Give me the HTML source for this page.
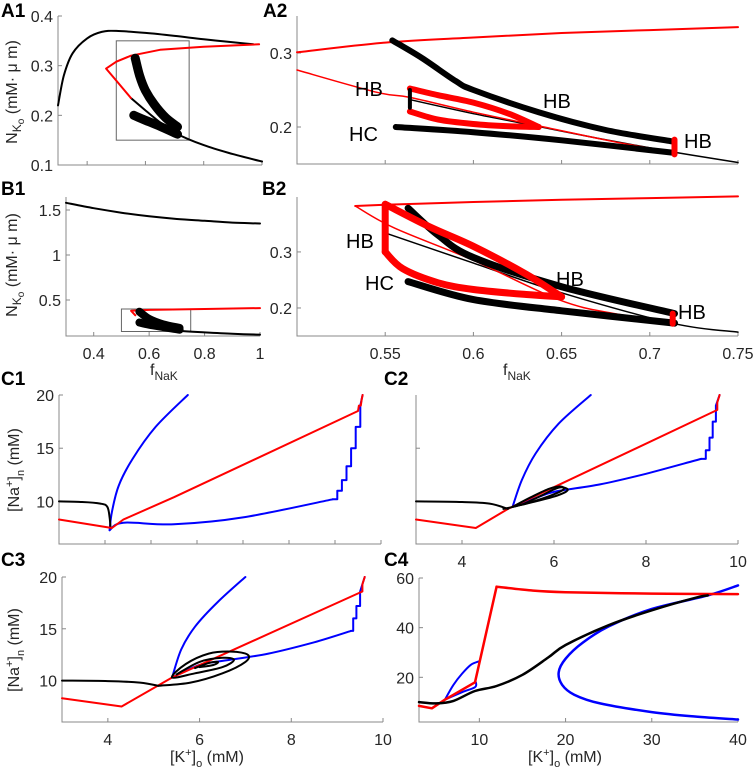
<!DOCTYPE html>
<html><head><meta charset="utf-8"><style>
body{margin:0;background:#fff}
svg{display:block;font-family:"Liberation Sans",Arial,sans-serif}
.tk{font-size:16px;fill:#262626}
.pl{font-size:19px;font-weight:bold;fill:#000}
.an{font-size:20px;fill:#000}
</style></head><body>
<svg id="fig" width="754" height="772" viewBox="0 0 754 772"></svg>
<script>
// ---------- data ----------
// A1
const a1Black=[[0.3,0.22],[0.32,0.28],[0.35,0.325],[0.4,0.355],[0.45,0.368],[0.5,0.37],[0.6,0.366],[0.7,0.36],[0.8,0.353],[0.9,0.347],[0.97,0.343]];
const a1Red=[[0.99,0.343],[0.8,0.338],[0.65,0.332],[0.55,0.32],[0.5,0.308],[0.465,0.294],[0.5,0.27],[0.55,0.235]];
const a1Lower=[[0.55,0.235],[0.6,0.21],[0.65,0.186],[0.7,0.165],[0.8,0.14],[0.9,0.122],[1.0,0.107]];
const a1ThickU=[[0.565,0.315],[0.58,0.28],[0.6,0.25],[0.63,0.222],[0.67,0.195],[0.71,0.177]];
const a1ThickL=[[0.56,0.2],[0.6,0.19],[0.65,0.178],[0.71,0.162]];
const a1Box=[0.5,0.75,0.15,0.35];
const a1YTicks=[0.1,0.2,0.3,0.4];
// A2
const a2RedTop=[[0.5,0.301],[0.55,0.314],[0.6,0.321],[0.65,0.327],[0.7,0.331],[0.75,0.335]];
const a2RedThin=[[0.5,0.277],[0.545,0.247],[0.564,0.24],[0.6,0.22],[0.64,0.2],[0.68,0.18],[0.714,0.166]];
const a2BlackThin=[[0.564,0.237],[0.6,0.218],[0.63,0.204],[0.67,0.185],[0.714,0.166],[0.75,0.152]];
const a2ThickU=[[0.554,0.317],[0.571,0.293],[0.59,0.262],[0.6,0.25],[0.637,0.22],[0.675,0.196],[0.714,0.18]];
const a2ThickL=[[0.556,0.2],[0.6,0.193],[0.65,0.182],[0.714,0.165]];
const a2LoopU=[[0.564,0.252],[0.58,0.243],[0.6,0.233],[0.62,0.218],[0.637,0.2]];
const a2LoopL=[[0.564,0.221],[0.58,0.21],[0.6,0.204],[0.62,0.201],[0.637,0.2]];
const a2VBlack=[[0.564,0.25],[0.564,0.226]];
const a2VRed=[[0.714,0.183],[0.714,0.163]];
const a2YTicks=[0.2,0.3];
// B1
const b1BlackTop=[[0.3,1.58],[0.4,1.52],[0.5,1.47],[0.6,1.43],[0.7,1.4],[0.8,1.38],[0.9,1.36],[1.0,1.35]];
const b1Red=[[0.55,0.33],[0.535,0.38],[0.6,0.39],[0.8,0.4],[1.0,0.41]];
const b1BlackLow=[[0.6,0.2],[0.7,0.16],[0.8,0.14],[0.9,0.125],[1.0,0.115]];
const b1ThickU=[[0.565,0.37],[0.6,0.29],[0.65,0.23],[0.71,0.19]];
const b1ThickL=[[0.565,0.25],[0.6,0.225],[0.65,0.2],[0.71,0.17]];
const b1Box=[0.5,0.75,0.15,0.4];
const b1XTicks=[0.4,0.6,0.8,1];
const b1YTicks=[0.5,1,1.5];
// B2
const b2RedTop=[[0.533,0.382],[0.55,0.384],[0.6,0.389],[0.65,0.393],[0.7,0.396],[0.75,0.399]];
const b2RedThin=[[0.533,0.382],[0.555,0.343],[0.6,0.285],[0.649,0.214],[0.68,0.19],[0.714,0.175]];
const b2BlackThin=[[0.55,0.334],[0.6,0.28],[0.65,0.227],[0.714,0.172],[0.75,0.157]];
const b2ThickU=[[0.563,0.378],[0.58,0.33],[0.6,0.29],[0.65,0.238],[0.714,0.19]];
const b2ThickL=[[0.563,0.247],[0.6,0.215],[0.65,0.195],[0.714,0.173]];
const b2LoopU=[[0.55,0.385],[0.575,0.345],[0.6,0.31],[0.63,0.26],[0.65,0.22]];
const b2LoopL=[[0.55,0.3],[0.56,0.27],[0.58,0.245],[0.6,0.233],[0.63,0.224],[0.65,0.22]];
const b2VLoop=[[0.55,0.385],[0.55,0.3]];
const b2VRed=[[0.713,0.19],[0.713,0.172]];
const b2XTicks=[0.55,0.6,0.65,0.7,0.75];
const b2YTicks=[0.2,0.3];
// C1
const c1Black=[[3,10],[3.5,9.95],[3.9,9.8],[4.05,9.5],[4.1,8.5],[4.12,7.5]];
const c1Red=[[3,8.3],[4.15,7.5],[4.4,8.3],[5.5,10.4],[9.5,18.5],[9.52,19],[9.56,19],[9.58,19.6],[9.6,20]];
const c1BlueUp=[[4.1,7.3],[4.15,9],[4.3,11.5],[4.6,14],[5.1,17],[5.8,20]];
const c1BlueCurve=[[4.1,7.3],[4.4,8],[5.5,7.85],[7,8.5],[8.95,10.2]];
const c1BlueStairs=[[8.95,10.2],[9.05,10.2],[9.05,11],[9.15,11],[9.15,12],[9.25,12],[9.25,13.3],[9.35,13.3],[9.35,15],[9.45,15],[9.45,17],[9.55,17],[9.55,19],[9.6,20]];
const c1YTicks=[10,15,20];
// C2
const c2Black=[[3,10],[4,9.95],[4.6,9.8],[5,9.3]];
const c2Loop1=[[4.9,9.3],[5.3,9.7],[5.7,10.5],[6.1,11.3],[6.3,11.1],[6.1,10.6],[5.6,10],[5.1,9.5]];
const c2Loop2=[[5.1,9.5],[5.5,10.4],[5.9,11.2],[6.15,11.4],[6.2,11.1],[5.9,10.5],[5.4,9.8],[5.1,9.5]];
const c2Red=[[3,8.3],[4.3,7.5],[5,9.3],[9.5,18.5],[9.55,18.6],[9.55,19.3],[9.6,20]];
const c2BlueUp=[[5.1,9.5],[5.3,12],[5.6,14.5],[6.1,17.3],[6.8,20]];
const c2BlueCurve=[[5.1,9.5],[5.6,10.3],[6,10.9],[7,11.6],[8,12.6],[9.2,14]];
const c2BlueStairs=[[9.2,14],[9.3,14],[9.3,14.8],[9.38,14.8],[9.38,16],[9.45,16],[9.45,17.5],[9.52,17.5],[9.52,19],[9.6,20]];
const c2XTicks=[4,6,8,10];
// C3
const c3Black=[[3,10],[4,9.95],[4.7,9.8],[5.1,9.5]];
const c3LoopOuter=[[5.1,9.5],[5.8,9.8],[6.5,10.7],[7.0,11.8],[7.05,12.5],[6.7,12.8],[6.2,12.6],[5.7,11.6],[5.4,10.3],[5.9,10.7],[6.5,11.3],[6.75,12],[6.5,12.2],[6,11.8],[5.5,10.6]];
const c3LoopInner=[[5.9,11.2],[6.2,11.7],[6.4,11.8],[6.3,11.5],[6.0,11.3]];
const c3Red=[[3,8.3],[4.3,7.5],[5.4,10.3],[9.5,18.5],[9.55,18.6],[9.55,19.3],[9.6,20]];
const c3BlueUp=[[5.4,10.3],[5.6,13],[5.9,15.2],[6.4,17.6],[7,20]];
const c3BlueCurve=[[5.4,10.3],[6,11.5],[6.5,11.9],[7.5,12.6],[8.5,13.7],[9.3,14.8]];
const c3BlueStairs=[[9.3,14.8],[9.35,14.8],[9.35,16],[9.42,16],[9.42,17.2],[9.5,17.2],[9.5,18.6],[9.6,20]];
const c3XTicks=[4,6,8,10];
// C4
const c4Red=[[3,8.5],[4.5,7.5],[6,11],[9.5,18],[12,56.5]];
const c4RedTail=[[12,56.5],[16,55],[20,54.3],[30,53.7],[40,53.5]];
const c4Black=[[3,10],[5,9.5],[7,10.5],[9.5,14.5],[12,16.5],[15,21],[18,28],[20,33],[25,41],[30,47],[35,52],[36.5,53]];
const c4BlueBig=[[40,57],[36.5,53],[30,47.5],[25,40.5],[22,34],[20,27.5],[19.2,22],[19.6,17],[21,13],[24,9.5],[30,6],[35,4.2],[40,3]];
const c4BlueLobe=[[6,11],[7,17],[8,21.5],[9,25],[10,26.5]];
const c4BlueLow=[[6,11],[8,14],[9.5,16],[9.6,18]];
const c4XTicks=[10,20,30,40];
const c4YTicks=[20,40,60];

// ---------- drawing ----------
const NS='http://www.w3.org/2000/svg';
const svg=document.getElementById('fig');
function mk(tag,attrs,parent){const e=document.createElementNS(NS,tag);for(const k in attrs)e.setAttribute(k,attrs[k]);(parent||svg).appendChild(e);return e;}
function axes(name,x0,x1,px0,px1,y0,y1,py0,py1){
  const g=mk('g',{});
  
  
  const sx=v=>px0+(v-x0)/(x1-x0)*(px1-px0);
  const sy=v=>py0+(v-y0)/(y1-y0)*(py1-py0);
  const al=mk('path',{d:`M${px0},${py1}V${py0}H${px1}`,fill:'none',stroke:'#888','stroke-width':1},g);
  
  
  return {g,sx,sy,px0,px1,py0,py1};
}
function line(ax,pts,color,w,name,smooth){
  const P=pts.map(p=>[ax.sx(p[0]),ax.sy(p[1])]);
  let d='M'+P[0][0].toFixed(1)+','+P[0][1].toFixed(1);
  if(smooth&&P.length>2){
    for(let i=0;i<P.length-1;i++){
      const p0=P[Math.max(0,i-1)],p1=P[i],p2=P[i+1],p3=P[Math.min(P.length-1,i+2)];
      const c1=[p1[0]+(p2[0]-p0[0])/6,p1[1]+(p2[1]-p0[1])/6];
      const c2=[p2[0]-(p3[0]-p1[0])/6,p2[1]-(p3[1]-p1[1])/6];
      d+=`C${c1[0].toFixed(1)},${c1[1].toFixed(1)} ${c2[0].toFixed(1)},${c2[1].toFixed(1)} ${p2[0].toFixed(1)},${p2[1].toFixed(1)}`;
    }
  } else {
    for(let i=1;i<P.length;i++)d+='L'+P[i][0].toFixed(1)+','+P[i][1].toFixed(1);
  }
  const e=mk('path',{d,fill:'none',stroke:color,'stroke-width':w,'stroke-linejoin':'round','stroke-linecap':'round'},ax.g);
  
  
}
function xticks(ax,vals,labels,name){
  vals.forEach(v=>{
    const x=ax.sx(v);
    mk('line',{x1:x,x2:x,y1:ax.py0,y2:ax.py0-4,stroke:'#888'},ax.g);
    if(labels){const t=mk('text',{x:x,y:ax.py0+23,'text-anchor':'middle',class:'tk'},ax.g);t.textContent=String(v);
      
      }
  });
}
function yticks(ax,vals,labels,name){
  vals.forEach(v=>{
    const y=ax.sy(v);
    mk('line',{x1:ax.px0,x2:ax.px0+4,y1:y,y2:y,stroke:'#888'},ax.g);
    if(labels){const t=mk('text',{x:ax.px0-5,y:y+6,'text-anchor':'end',class:'tk'},ax.g);t.textContent=String(v);
      
      }
  });
}
function box(ax,b,name){
  const x=ax.sx(b[0]),x2=ax.sx(b[1]),y=ax.sy(b[3]),y2=ax.sy(b[2]);
  const r=mk('rect',{x,y,width:x2-x,height:y2-y,fill:'none',stroke:'#666','stroke-width':1},ax.g);
  
  
}
function text(x,y,s,cls,name,anchor){const t=mk('text',{x,y,class:cls,'text-anchor':anchor||'start'});t.textContent=s;
  
  return t;}
const R='#ff0000',B='#0000ff',K='#000';

// A1
let ax=axes('panel-a1',0.3,1,58,262,0.1,0.4,165,16);
xticks(ax,[0.4,0.6,0.8,1],false,'a1');yticks(ax,a1YTicks,true,'a1');
box(ax,a1Box,'a1-zoom-box');
line(ax,a1Black,K,2,'a1-black-branch',true);line(ax,a1Lower,K,2,'a1-lower-branch',true);line(ax,a1Red,R,2,'a1-red-branch',false);
line(ax,a1ThickU,K,9,'a1-thick-upper',true);line(ax,a1ThickL,K,9,'a1-thick-lower',true);
// A2
ax=axes('panel-a2',0.5,0.75,297,738,0.15,0.35,164,16);
xticks(ax,b2XTicks,false,'a2');yticks(ax,a2YTicks,true,'a2');
line(ax,a2RedTop,R,2,'a2-red-top',true);line(ax,a2BlackThin,K,1.5,'a2-black-thin',true);line(ax,a2RedThin,R,1.5,'a2-red-thin',true);
line(ax,a2ThickU,K,6,'a2-thick-upper',true);line(ax,a2ThickL,K,6,'a2-thick-lower',true);
line(ax,a2LoopU,R,6,'a2-red-loop-upper',true);line(ax,a2LoopL,R,6,'a2-red-loop-lower',true);
line(ax,a2VBlack,K,4,'a2-black-vertical');line(ax,a2VRed,R,6,'a2-red-vertical');
// B1
ax=axes('panel-b1',0.3,1,66,260,0.1,1.6444,336,197);
xticks(ax,b1XTicks,true,'b1');yticks(ax,b1YTicks,true,'b1');
box(ax,b1Box,'b1-zoom-box');
line(ax,b1BlackTop,K,2,'b1-black-top',true);line(ax,b1BlackLow,K,2,'b1-black-low',true);line(ax,b1Red,R,2,'b1-red');
line(ax,b1ThickU,K,8,'b1-thick-upper',true);line(ax,b1ThickL,K,8,'b1-thick-lower',true);
// B2
ax=axes('panel-b2',0.5,0.75,297,738,0.15,0.398,336,197);
xticks(ax,b2XTicks,true,'b2');yticks(ax,b2YTicks,true,'b2');
line(ax,b2RedTop,R,2,'b2-red-top',true);line(ax,b2BlackThin,K,1.5,'b2-black-thin',true);line(ax,b2RedThin,R,1.5,'b2-red-thin',true);
line(ax,b2ThickU,K,7,'b2-thick-upper',true);line(ax,b2ThickL,K,7,'b2-thick-lower',true);
line(ax,b2LoopU,R,7,'b2-red-loop-upper',true);line(ax,b2LoopL,R,7,'b2-red-loop-lower',true);
line(ax,b2VLoop,R,7,'b2-red-loop-vertical');line(ax,b2VRed,R,6,'b2-red-vertical');
// C1
ax=axes('panel-c1',3,10,59,381,6,20,544,395);
xticks(ax,[4,5,6,7,8,9,10],false,'c1');yticks(ax,c1YTicks,true,'c1');
line(ax,c1BlueUp,B,2,'c1-blue-upper',true);line(ax,c1BlueCurve,B,2,'c1-blue-lower',true);line(ax,c1BlueStairs,B,2,'c1-blue-stairs');
line(ax,c1Black,K,2,'c1-black',true);line(ax,c1Red,R,2,'c1-red');
// C2
ax=axes('panel-c2',3,10,416,738,6,20,544,395);
xticks(ax,c2XTicks,true,'c2');yticks(ax,[15],false,'c2');
line(ax,c2BlueUp,B,2,'c2-blue-upper',true);line(ax,c2BlueCurve,B,2,'c2-blue-lower',true);line(ax,c2BlueStairs,B,2,'c2-blue-stairs');
line(ax,c2Red,R,2,'c2-red');
line(ax,c2Black,K,2,'c2-black',true);line(ax,c2Loop1,K,2,'c2-loop-1',true);line(ax,c2Loop2,K,2,'c2-loop-2',true);
// C3
ax=axes('panel-c3',3,10,62,383,6,20,722,577);
xticks(ax,c3XTicks,true,'c3');yticks(ax,c1YTicks,true,'c3');
line(ax,c3BlueUp,B,2,'c3-blue-upper',true);line(ax,c3BlueCurve,B,2,'c3-blue-lower',true);line(ax,c3BlueStairs,B,2,'c3-blue-stairs');
line(ax,c3Red,R,2,'c3-red');
line(ax,c3Black,K,2,'c3-black',true);line(ax,c3LoopOuter,K,2,'c3-loop-outer',true);line(ax,c3LoopInner,K,2,'c3-loop-inner',true);
// C4
ax=axes('panel-c4',3,40,419,738,2,60,722,578);
xticks(ax,c4XTicks,true,'c4');yticks(ax,c4YTicks,true,'c4');
line(ax,c4BlueBig,B,2.5,'c4-blue-parabola',true);line(ax,c4BlueLobe,B,2,'c4-blue-lobe',true);line(ax,c4BlueLow,B,2,'c4-blue-low',true);
line(ax,c4Red,R,2.5,'c4-red');line(ax,c4RedTail,R,2.5,'c4-red-tail',true);line(ax,c4Black,K,2.5,'c4-black',true);

// annotations
text(355,96,'HB','an','a2-hb-left');text(349,141,'HC','an','a2-hc');text(543,108,'HB','an','a2-hb-mid');text(684,148,'HB','an','a2-hb-right');
text(346,248,'HB','an','b2-hb-left');text(365,290,'HC','an','b2-hc');text(556,286,'HB','an','b2-hb-mid');text(678,319,'HB','an','b2-hb-right');
// panel labels
text(1,17,'A1','pl','label-a1');text(263,17,'A2','pl','label-a2');
text(1,195,'B1','pl','label-b1');text(262,195,'B2','pl','label-b2');
text(1,385,'C1','pl','label-c1');text(384,385,'C2','pl','label-c2');
text(1,566,'C3','pl','label-c3');text(384,566,'C4','pl','label-c4');
</script>
<!-- axis titles -->
<svg style="position:absolute;left:0;top:0" width="754" height="772">
 <g font-family="Liberation Sans, Arial, sans-serif" font-size="16" fill="#262626">
  <text transform="translate(17,92) rotate(-90)" text-anchor="middle">N<tspan dy="4" font-size="12">K</tspan><tspan dy="3" font-size="10">o</tspan><tspan dy="-7"> (mM· μ m)</tspan></text>
  <text transform="translate(17,265) rotate(-90)" text-anchor="middle">N<tspan dy="4" font-size="12">K</tspan><tspan dy="3" font-size="10">o</tspan><tspan dy="-7"> (mM· μ m)</tspan></text>
  <text x="150" y="375">f<tspan dy="5" font-size="12">NaK</tspan></text>
  <text x="503" y="375">f<tspan dy="5" font-size="12">NaK</tspan></text>
  <text transform="translate(19,470) rotate(-90)" text-anchor="middle">[Na<tspan dy="-6" font-size="11">+</tspan><tspan dy="6">]</tspan><tspan dy="5" font-size="11">n</tspan><tspan dy="-5"> (mM)</tspan></text>
  <text transform="translate(19,650) rotate(-90)" text-anchor="middle">[Na<tspan dy="-6" font-size="11">+</tspan><tspan dy="6">]</tspan><tspan dy="5" font-size="11">n</tspan><tspan dy="-5"> (mM)</tspan></text>
  <text x="207" y="762" text-anchor="middle">[K<tspan dy="-6" font-size="11">+</tspan><tspan dy="6">]</tspan><tspan dy="5" font-size="11">o</tspan><tspan dy="-5"> (mM)</tspan></text>
  <text x="565" y="762" text-anchor="middle">[K<tspan dy="-6" font-size="11">+</tspan><tspan dy="6">]</tspan><tspan dy="5" font-size="11">o</tspan><tspan dy="-5"> (mM)</tspan></text>
 </g>
</svg>
</body></html>
